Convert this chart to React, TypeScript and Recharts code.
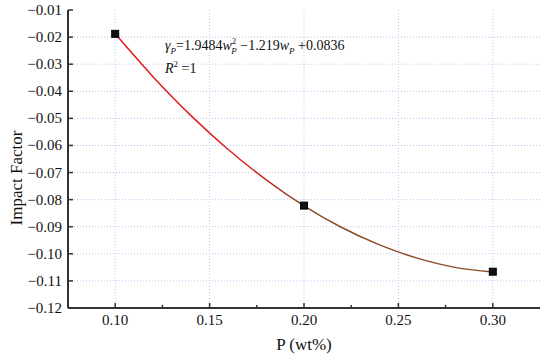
import React from "react";
import {
  ComposedChart,
  Line,
  Scatter,
  XAxis,
  YAxis,
  CartesianGrid,
} from "recharts";

document.body.style.margin = "0";

// measured points
const pX = [0.1, 0.2, 0.3];
const pY = [-0.0188, -0.0822, -0.1066];

// fitted curve
const curveX = [0.1, 0.12, 0.14, 0.16, 0.18, 0.2, 0.22, 0.24, 0.26, 0.28, 0.3];
const curveY = [
  -0.0188, -0.0346, -0.0489, -0.0616, -0.0727, -0.0823, -0.0903, -0.0967,
  -0.1016, -0.105, -0.1067,
];

const xMajor = [0.1, 0.15, 0.2, 0.25, 0.3];
const xTicks = [0.1, 0.125, 0.15, 0.175, 0.2, 0.225, 0.25, 0.275, 0.3];
const yTicks = [
  -0.12, -0.11, -0.1, -0.09, -0.08, -0.07, -0.06, -0.05, -0.04, -0.03, -0.02,
  -0.01,
];

const points = pX.map((x, i) => ({ x, y: pY[i] }));
const curve = curveX.map((x, i) => ({ x, fit: curveY[i] }));

const FONT = "'Liberation Serif', 'DejaVu Serif', serif";
const AXIS = "#333";

const fmt = (v: number) => v.toFixed(2).replace("-", "\u2212");

function XTick(props: any) {
  const { x, y, payload } = props;
  const major = xMajor.some((m) => Math.abs(m - payload.value) < 1e-6);
  return (
    <g>
      <line x1={x} x2={x} y1={y} y2={y - (major ? 5 : 3)} stroke={AXIS} strokeWidth={1.5} />
      {major && (
        <text x={x} y={y + 17} textAnchor="middle" style={{ fontFamily: FONT, fontSize: 15 }} fill="#111">
          {payload.value.toFixed(2)}
        </text>
      )}
    </g>
  );
}

function YTick(props: any) {
  const { x, y, payload } = props;
  return (
    <g>
      <line x1={x} x2={x + 5} y1={y} y2={y} stroke={AXIS} strokeWidth={1.5} />
      <text x={x - 6} y={y + 5} textAnchor="end" style={{ fontFamily: FONT, fontSize: 15 }} fill="#111">
        {fmt(payload.value)}
      </text>
    </g>
  );
}

const square = (props: any) => {
  const { cx, cy } = props;
  return <rect x={cx - 3.5} y={cy - 3.5} width={7} height={7} fill="#111" stroke="#000" />;
};

const small: React.CSSProperties = { fontSize: 9, position: "relative" };

export default function App() {
  return (
    <div style={{ position: "relative", width: 550, height: 359, background: "#fff", fontFamily: FONT }}>
      <ComposedChart
        width={550}
        height={359}
        margin={{ top: 10, right: 10, left: 0, bottom: 0 }}
        style={{ fontFamily: FONT }}
      >
        <defs>
          <linearGradient id="fitGrad" x1="0" y1="0" x2="1" y2="0">
            <stop offset="0" stopColor="#e8141c" />
            <stop offset="0.38" stopColor="#d5221e" />
            <stop offset="0.48" stopColor="#8e4a28" />
            <stop offset="1" stopColor="#8b4a26" />
          </linearGradient>
        </defs>
        <CartesianGrid
          stroke="#c0c0f2"
          strokeDasharray="1 2"
          horizontalValues={yTicks.slice(1, -1)}
          verticalValues={xMajor}
        />
        <XAxis
          type="number"
          dataKey="x"
          domain={[0.075, 0.325]}
          ticks={xTicks}
          interval={0}
          allowDataOverflow
          height={51}
          tickSize={0}
          tickMargin={0}
          tick={<XTick />}
          axisLine={{ stroke: AXIS, strokeWidth: 2 }}
          tickLine={false}
        />
        <XAxis
          xAxisId="top"
          orientation="top"
          type="number"
          domain={[0.075, 0.325]}
          height={0}
          tick={false}
          tickLine={false}
          axisLine={{ stroke: AXIS, strokeWidth: 2 }}
        />
        <YAxis
          type="number"
          domain={[-0.12, -0.01]}
          ticks={yTicks}
          interval={0}
          allowDataOverflow
          width={68}
          tickSize={0}
          tickMargin={0}
          tick={<YTick />}
          axisLine={{ stroke: AXIS, strokeWidth: 2 }}
          tickLine={false}
        />
        <YAxis
          yAxisId="right"
          orientation="right"
          domain={[-0.12, -0.01]}
          width={0}
          tick={false}
          tickLine={false}
          axisLine={{ stroke: AXIS, strokeWidth: 2 }}
        />
        <Line
          data={curve}
          dataKey="fit"
          type="monotone"
          stroke="url(#fitGrad)"
          strokeWidth={1.5}
          dot={false}
          isAnimationActive={false}
        />
        <Scatter data={points} dataKey="y" shape={square} isAnimationActive={false} />
      </ComposedChart>

      <div
        style={{
          position: "absolute",
          left: 165,
          top: 39,
          fontSize: 14,
          fontStyle: "italic",
          whiteSpace: "nowrap",
          color: "#111",
          lineHeight: 1,
        }}
      >
        γ<span style={{ ...small, top: 4 }}>P</span>
        <span style={{ fontStyle: "normal" }}>=1.9484</span>w
        <span style={{ ...small, top: -6, fontStyle: "normal" }}>2</span>
        <span style={{ ...small, top: 4, marginLeft: -5 }}>P</span>
        <span style={{ fontStyle: "normal" }}> −1.219</span>w
        <span style={{ ...small, top: 4 }}>P</span>
        <span style={{ fontStyle: "normal" }}> +0.0836</span>
      </div>
      <div
        style={{
          position: "absolute",
          left: 165,
          top: 62,
          fontSize: 14,
          fontStyle: "italic",
          color: "#111",
          lineHeight: 1,
          whiteSpace: "nowrap",
        }}
      >
        R<span style={{ ...small, top: -6, fontStyle: "normal" }}>2</span>
        <span style={{ fontStyle: "normal" }}> =1</span>
      </div>

      <div
        style={{
          position: "absolute",
          left: 304,
          top: 345,
          transform: "translate(-50%, -50%)",
          fontSize: 17,
          whiteSpace: "nowrap",
          color: "#111",
        }}
      >
        P (wt%)
      </div>
      <div
        style={{
          position: "absolute",
          left: 17,
          top: 178,
          transform: "translate(-50%, -50%) rotate(-90deg)",
          fontSize: 17,
          whiteSpace: "nowrap",
          color: "#111",
        }}
      >
        Impact Factor
      </div>
    </div>
  );
}
